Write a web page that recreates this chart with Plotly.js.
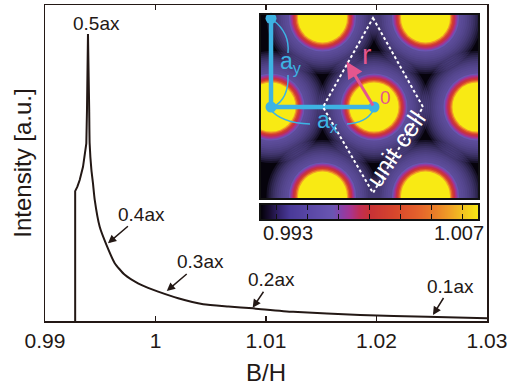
<!DOCTYPE html>
<html>
<head>
<meta charset="utf-8">
<script src="https://cdn.plot.ly/plotly-3.0.1.min.js"></script>
<style>html,body{margin:0;padding:0;background:#fff;}#chart{width:518px;height:388px;}</style>
</head>
<body>
<div id="chart"></div>
<script>
// ---- main curve ----
const bh = [0.99273, 0.99273, 0.99293, 0.99314, 0.99344, 0.99374, 0.99380, 0.99386, 0.99389,
  0.99395, 0.99400, 0.99404, 0.99420, 0.99434, 0.99450, 0.99495, 0.99556, 0.99631, 0.99722,
  0.99842, 0.99933, 1.00024, 1.00205, 1.00432, 1.00660, 1.00882, 1.01245, 1.01852, 1.02457, 1.03];
const intensity = [0, 0.411, 0.425, 0.446, 0.488, 0.562, 0.668, 0.773, 0.908,
  0.773, 0.668, 0.562, 0.478, 0.436, 0.383, 0.298, 0.241, 0.183, 0.146,
  0.119, 0.105, 0.093, 0.072, 0.053, 0.046, 0.040, 0.029, 0.019, 0.0136, 0.0085];
const peakIndex = 8;

const xTickVals = [0.99, 1, 1.01, 1.02, 1.03];
const xTickText = ['0.99', '1', '1.01', '1.02', '1.03'];

// labelled points along the curve
const markLabels = ['0.5ax', '0.4ax', '0.3ax', '0.2ax', '0.1ax'];
const markX = [0.99389, 0.99570, 1.00102, 1.00879, 1.02511];
const markY = [0.94, 0.246, 0.095, 0.042, 0.019];

// ---- inset: hexagonal lattice map ----
const latticeX = [-41.5, 61.5, 164.5, 267.5, 10, 113, 216, -41.5, 61.5, 164.5, 267.5];
const latticeY = [3, 3, 3, 3, 92, 92, 92, 181, 181, 181, 181];
// contour levels around each site and their radii
const backgroundLevel = 0.993;
const haloLevel = 0.9976;
const haloRadius = [56, 54, 52, 50, 48, 46, 44, 42, 40, 38, 36];
const ringLevel = [0.9976, 0.9983, 0.9989, 0.9995, 1.0008, 1.0030, 1.0052, 1.0070];
const ringRadius = [33.5, 32.2, 31.0, 29.8, 28.4, 27.0, 25.7, 24.5];

// lattice vectors schematic (a_x, a_y) and r vector
const vecX = [10, 10, 113];
const vecY = [3.3, 92, 92];
const rVec = {x0: 113, y0: 92, x1: 85.7, y1: 46.7};
const cellX = [112, 162, 112, 62];
const cellY = [3, 92, 178, 92];

// colour bar
const cbLevels = [0.993, 0.994, 0.995, 0.996, 0.997, 0.998, 0.999, 1.000, 1.001, 1.002, 1.003, 1.004, 1.005, 1.006, 1.007];
const cbTicks = [0.994, 0.996, 0.998, 1.000, 1.002, 1.004, 1.006];
const cbMin = 0.993, cbMax = 1.007;

const cscale = [
  [0.00, '#06030c'], [0.04, '#1c1038'], [0.08, '#34246e'], [0.13, '#4a3a98'],
  [0.22, '#5a48a6'], [0.33, '#6a56b2'], [0.37, '#8a40a8'], [0.41, '#a83490'],
  [0.45, '#c02e58'], [0.50, '#c83236'], [0.62, '#d8482c'], [0.72, '#e4622c'],
  [0.80, '#ea7e28'], [0.87, '#f0a226'], [0.93, '#f2c420'], [1.00, '#f8ea14']
];

const FONT = 'Liberation Sans, Arial, Helvetica, sans-serif';
const INK = '#231815';
const CYAN = '#3db3e3';
const PINK = '#e4568e';

const traces = [];
// rising edge (sharp corners) and decaying tail (smooth)
traces.push({
  type: 'scatter', mode: 'lines', x: bh.slice(0, peakIndex + 1), y: intensity.slice(0, peakIndex + 1),
  line: {color: INK, width: 2}, hoverinfo: 'skip', showlegend: false
});
traces.push({
  type: 'scatter', mode: 'lines', x: bh.slice(peakIndex), y: intensity.slice(peakIndex),
  line: {color: INK, width: 2, shape: 'spline', smoothing: 0.5}, hoverinfo: 'skip', showlegend: false
});

// dark background of the map
traces.push({
  type: 'heatmap', x: [0, 217], y: [0, 183], z: [[backgroundLevel, backgroundLevel], [backgroundLevel, backgroundLevel]],
  xaxis: 'x2', yaxis: 'y2', colorscale: cscale, zmin: cbMin, zmax: cbMax, showscale: false, hoverinfo: 'skip'
});

haloRadius.forEach(r => {
  traces.push({
    type: 'scatter', mode: 'markers', x: latticeX, y: latticeY, xaxis: 'x2', yaxis: 'y2',
    cliponaxis: true, hoverinfo: 'skip', showlegend: false,
    marker: {size: 2 * r, opacity: 0.17, color: latticeX.map(() => haloLevel),
      colorscale: cscale, cmin: cbMin, cmax: cbMax, line: {width: 0}}
  });
});
ringRadius.forEach((r, i) => {
  traces.push({
    type: 'scatter', mode: 'markers', x: latticeX, y: latticeY, xaxis: 'x2', yaxis: 'y2',
    cliponaxis: true, hoverinfo: 'skip', showlegend: false,
    marker: {size: 2 * r, color: latticeX.map(() => ringLevel[i]),
      colorscale: cscale, cmin: cbMin, cmax: cbMax, line: {width: 0}}
  });
});
// lattice vectors
traces.push({
  type: 'scatter', mode: 'lines+markers', x: vecX, y: vecY, xaxis: 'x2', yaxis: 'y2',
  cliponaxis: false, hoverinfo: 'skip', showlegend: false,
  line: {color: CYAN, width: 4.5}, marker: {color: CYAN, size: 11}
});
// colour bar
traces.push({
  type: 'heatmap', x: cbLevels, y: [0], z: [cbLevels], xaxis: 'x3', yaxis: 'y3',
  colorscale: cscale, zmin: cbMin, zmax: cbMax, zsmooth: 'best', showscale: false, hoverinfo: 'skip'
});

const annotations = [];
markLabels.forEach((t, i) => {
  if (i === 0) {
    annotations.push({x: markX[i], y: markY[i], xref: 'x', yref: 'y', text: t, showarrow: false,
      xshift: 9, font: {family: FONT, size: 19, color: INK}});
  } else {
    const off = [[0, 0], [34, -29], [34, -29], [19, -28], [18, -29]][i];
    annotations.push({x: markX[i], y: markY[i], xref: 'x', yref: 'y', text: t, showarrow: true,
      ax: off[0], ay: off[1], arrowhead: 2, arrowsize: 1.1, arrowwidth: 1.5, arrowcolor: INK,
      standoff: 0, font: {family: FONT, size: 19, color: INK}});
  }
});
// inset labels
annotations.push({x: 30, y: 48, xref: 'x2', yref: 'y2', text: 'a<sub>y</sub>', showarrow: false,
  font: {family: FONT, size: 23, color: CYAN}});
annotations.push({x: 67, y: 106, xref: 'x2', yref: 'y2', text: 'a<sub>x</sub>', showarrow: false,
  font: {family: FONT, size: 23, color: CYAN}});
annotations.push({x: rVec.x1, y: rVec.y1, xref: 'x2', yref: 'y2', ax: rVec.x0, ay: rVec.y0,
  axref: 'x2', ayref: 'y2', text: '', showarrow: true, arrowhead: 2, arrowsize: 1.1,
  arrowwidth: 3, arrowcolor: PINK, standoff: 0});
annotations.push({x: 106, y: 40, xref: 'x2', yref: 'y2', text: 'r', showarrow: false,
  font: {family: FONT, size: 28, color: PINK}});
annotations.push({x: 125, y: 83, xref: 'x2', yref: 'y2', text: '0', showarrow: false,
  font: {family: FONT, size: 19, color: PINK}});
annotations.push({x: 135, y: 133, xref: 'x2', yref: 'y2', text: 'unit cell', showarrow: false,
  textangle: -56, font: {family: FONT, size: 25, color: '#ffffff'}});
annotations.push({x: cbMin, y: 0, xref: 'x3', yref: 'y3 domain', text: '0.993', showarrow: false,
  xanchor: 'left', yanchor: 'top', yshift: -1, font: {family: FONT, size: 20, color: INK}});
annotations.push({x: cbMax, y: 0, xref: 'x3', yref: 'y3 domain', text: '1.007', showarrow: false,
  xanchor: 'right', yanchor: 'top', xshift: 8, yshift: -1, font: {family: FONT, size: 20, color: INK}});

const cellPath = 'M ' + cellX.map((v, i) => v + ',' + cellY[i]).join(' L ') + ' Z';

const shapes = [
  {type: 'path', xref: 'x2', yref: 'y2', path: cellPath, line: {color: '#ffffff', width: 2, dash: '3px,2.5px'}},
  {type: 'path', xref: 'x2', yref: 'y2', path: 'M 12,5 Q 29,18 27,38', line: {color: CYAN, width: 1.5}},
  {type: 'path', xref: 'x2', yref: 'y2', path: 'M 27,60 Q 28,84 12,92', line: {color: CYAN, width: 1.5}},
  {type: 'path', xref: 'x2', yref: 'y2', path: 'M 9,94 Q 20,108 49,109', line: {color: CYAN, width: 1.5}},
  {type: 'path', xref: 'x2', yref: 'y2', path: 'M 86,109 Q 105,108 112,96', line: {color: CYAN, width: 1.5}}
];

const layout = {
  width: 518, height: 388,
  margin: {l: 45, r: 31, t: 5, b: 67},
  paper_bgcolor: '#ffffff', plot_bgcolor: '#ffffff',
  showlegend: false, hovermode: false,
  font: {family: FONT, color: INK},
  xaxis: {
    range: [0.99, 1.03], tickvals: xTickVals, ticktext: xTickText,
    ticks: 'inside', ticklen: 5, tickwidth: 1.2, tickcolor: INK,
    showline: true, mirror: 'ticks', linecolor: INK, linewidth: 1.5,
    showgrid: false, zeroline: false,
    tickfont: {family: FONT, size: 21, color: INK},
    title: {text: 'B/H', font: {family: FONT, size: 24, color: INK}, standoff: 13}
  },
  yaxis: {
    range: [0, 1], showticklabels: false, ticks: '',
    showline: true, mirror: true, linecolor: INK, linewidth: 1.5,
    showgrid: false, zeroline: false,
    title: {text: 'Intensity [a.u.]', font: {family: FONT, size: 24, color: INK}, standoff: 5}
  },
  xaxis2: {domain: [0.4887, 0.9796], range: [0, 217], anchor: 'y2', showgrid: false, zeroline: false,
    showticklabels: false, ticks: '', showline: true, mirror: true, linecolor: '#111', linewidth: 2},
  yaxis2: {domain: [0.3892, 0.9684], range: [183, 0], anchor: 'x2', showgrid: false, zeroline: false,
    showticklabels: false, ticks: '', showline: true, mirror: true, linecolor: '#111', linewidth: 2},
  xaxis3: {domain: [0.4887, 0.9796], range: [cbMin, cbMax], anchor: 'y3', showgrid: false, zeroline: false,
    tickvals: cbTicks, showticklabels: false, ticks: 'inside', ticklen: 5, tickcolor: '#111', tickwidth: 1.2,
    showline: true, mirror: 'ticks', linecolor: '#111', linewidth: 2},
  yaxis3: {domain: [0.3228, 0.3671], range: [-0.5, 0.5], anchor: 'x3', showgrid: false, zeroline: false,
    showticklabels: false, ticks: '', showline: true, mirror: true, linecolor: '#111', linewidth: 2},
  annotations: annotations,
  shapes: shapes
};

Plotly.newPlot('chart', traces, layout, {staticPlot: true, displayModeBar: false});
</script>
</body>
</html>
